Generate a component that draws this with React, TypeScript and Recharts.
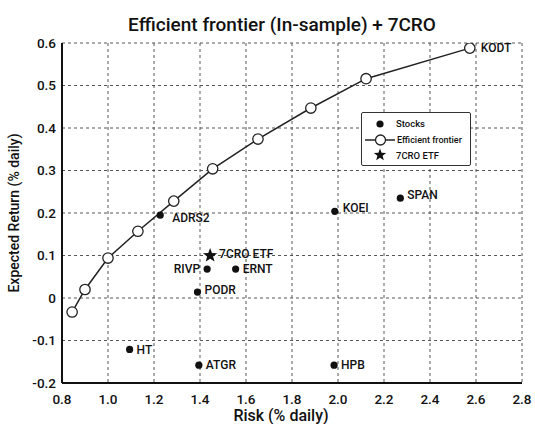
import React from "react";
import { ScatterChart, Scatter, XAxis, YAxis, CartesianGrid } from "recharts";

const frontierRisk = [0.844, 0.9, 1.0, 1.13, 1.286, 1.455, 1.652, 1.882, 2.122, 2.573];
const frontierReturn = [-0.033, 0.02, 0.094, 0.157, 0.228, 0.304, 0.374, 0.447, 0.516, 0.588];
const frontierNames = ["", "", "", "", "", "", "", "", "", "KODT"];

const stockNames = ["ADRS2", "KOEI", "SPAN", "RIVP", "ERNT", "PODR", "HT", "ATGR", "HPB"];
const stockRisk = [1.227, 1.986, 2.271, 1.431, 1.555, 1.389, 1.094, 1.395, 1.983];
const stockReturn = [0.195, 0.204, 0.235, 0.068, 0.068, 0.014, -0.121, -0.158, -0.158];

const etfName = "7CRO ETF";
const etfRisk = [1.444];
const etfReturn = [0.1];

const xTicks = [0.8, 1.0, 1.2, 1.4, 1.6, 1.8, 2.0, 2.2, 2.4, 2.6, 2.8];
const yTicks = [-0.2, -0.1, 0, 0.1, 0.2, 0.3, 0.4, 0.5, 0.6];

const legendLabels = ["Stocks", "Efficient frontier", "7CRO ETF"];

const frontier = frontierRisk.map((r, i) => ({ risk: r, ret: frontierReturn[i], name: frontierNames[i] }));
const stocks = stockNames.map((n, i) => ({ name: n, risk: stockRisk[i], ret: stockReturn[i] }));
const etf = etfRisk.map((r, i) => ({ name: etfName, risk: r, ret: etfReturn[i] }));

const FONT = "Roboto, 'DejaVu Sans', sans-serif";

// label offsets (style only)
const labelOffset: Record<string, [number, number, string]> = {
  ADRS2: [12, 3, "start"],
  KOEI: [8, -4, "start"],
  SPAN: [7, -3, "start"],
  RIVP: [-7, 0, "end"],
  ERNT: [7, 0, "start"],
  PODR: [7, -2, "start"],
  HT: [7, 0, "start"],
  ATGR: [7, 0, "start"],
  HPB: [7, 0, "start"],
  KODT: [11, 0, "start"],
  "7CRO ETF": [9, -2, "start"],
};

const PointLabel = ({ x, y, name }: { x: number; y: number; name: string }) => {
  const o = labelOffset[name];
  if (!o) return null;
  return (
    <text
      x={x + o[0]}
      y={y + o[1]}
      dy="0.35em"
      textAnchor={o[2] as any}
      fontFamily={FONT}
      fontSize={12}
      fontWeight={500}
      fill="#111"
    >
      {name}
    </text>
  );
};

const StockShape = (props: any) => {
  const { cx, cy, payload } = props;
  return (
    <g>
      <circle cx={cx} cy={cy} r={3.6} fill="#111" />
      <PointLabel x={cx} y={cy} name={payload.name} />
    </g>
  );
};

const FrontierShape = (props: any) => {
  const { cx, cy, payload } = props;
  return (
    <g>
      <circle cx={cx} cy={cy} r={5.2} fill="#fff" stroke="#222" strokeWidth={1.3} />
      {payload.name ? <PointLabel x={cx} y={cy} name={payload.name} /> : null}
    </g>
  );
};

const starPath = (cx: number, cy: number, R: number) => {
  const r = R * 0.42;
  const pts: string[] = [];
  for (let i = 0; i < 10; i++) {
    const ang = -Math.PI / 2 + (i * Math.PI) / 5;
    const rad = i % 2 === 0 ? R : r;
    pts.push(`${cx + rad * Math.cos(ang)},${cy + rad * Math.sin(ang)}`);
  }
  return `M${pts.join("L")}Z`;
};

const StarShape = (props: any) => {
  const { cx, cy, payload } = props;
  return (
    <g>
      <path d={starPath(cx, cy, 7.5)} fill="#111" />
      <PointLabel x={cx} y={cy} name={payload.name} />
    </g>
  );
};

const LegendBox = () => (
  <div
    style={{
      position: "absolute",
      left: 361,
      top: 112,
      width: 110,
      height: 54,
      border: "1.5px solid #333",
      borderRadius: 2,
      background: "#fff",
      boxSizing: "border-box",
      zIndex: 3,
    }}
  >
    <svg width={107} height={51} style={{ display: "block" }}>
      <circle cx={18} cy={11} r={3.6} fill="#111" />
      <text x={34} y={11} dy="0.35em" fontFamily={FONT} fontSize={9.5} fontWeight={500} fill="#111">
        {legendLabels[0]}
      </text>
      <line x1={3} x2={33} y1={27} y2={27} stroke="#222" strokeWidth={1.5} />
      <circle cx={18.5} cy={27} r={5} fill="#fff" stroke="#222" strokeWidth={1.3} />
      <text x={35} y={27} dy="0.35em" fontFamily={FONT} fontSize={9} fontWeight={500} fill="#111">
        {legendLabels[1]}
      </text>
      <path d={starPath(18, 42, 6.5)} fill="#111" />
      <text x={34} y={43} dy="0.35em" fontFamily={FONT} fontSize={9.5} fontWeight={500} fill="#111">
        {legendLabels[2]}
      </text>
    </svg>
  </div>
);

export default function App() {
  return (
    <div style={{ position: "absolute", left: 0, top: 0, width: 535, height: 424, background: "#fff" }}>
      <div
        style={{
          position: "absolute",
          left: 0,
          top: 13,
          width: 564,
          textAlign: "center",
          fontFamily: FONT,
          fontSize: 19,
          fontWeight: 500,
          color: "#111",
          zIndex: 2,
        }}
      >
        Efficient frontier (In-sample) + 7CRO
      </div>
      <ScatterChart width={535} height={424} margin={{ top: 43, right: 13, left: 0, bottom: 0 }}>
        <CartesianGrid stroke="#444" strokeDasharray="3 3" strokeWidth={0.9} />
        <XAxis
          type="number"
          dataKey="risk"
          domain={[0.8, 2.8]}
          ticks={xTicks}
          tickFormatter={(v: number) => v.toFixed(1)}
          height={41}
          tickLine={false}
          axisLine={{ stroke: "#111", strokeWidth: 2 }}
          tick={{ fill: "#111", fontFamily: FONT, fontSize: 13.5, fontWeight: 500 }}
          tickMargin={5}
          interval={0}
          allowDataOverflow
          label={{
            value: "Risk (% daily)",
            position: "insideBottom",
            offset: 3,
            dx: -11,
            style: { fill: "#111", fontFamily: FONT, fontSize: 16, fontWeight: 500 },
          }}
        />
        <YAxis
          type="number"
          dataKey="ret"
          domain={[-0.2, 0.6]}
          ticks={yTicks}
          tickFormatter={(v: number) => (v === 0 ? "0" : v.toFixed(1))}
          width={62}
          tickLine={false}
          tickSize={0}
          axisLine={{ stroke: "#111", strokeWidth: 2 }}
          tick={{ fill: "#111", fontFamily: FONT, fontSize: 13.5, fontWeight: 500 }}
          tickMargin={6}
          interval={0}
          allowDataOverflow
          label={{
            value: "Expected Return (% daily)",
            angle: -90,
            position: "insideLeft",
            offset: 14,
            style: { textAnchor: "middle", fill: "#111", fontFamily: FONT, fontSize: 14, fontWeight: 500 },
          }}
        />
        <Scatter
          name="Efficient frontier"
          data={frontier}
          line={{ stroke: "#222", strokeWidth: 1.5 }}
          shape={FrontierShape}
          isAnimationActive={false}
        />
        <Scatter name="Stocks" data={stocks} shape={StockShape} isAnimationActive={false} />
        <Scatter name="7CRO ETF" data={etf} shape={StarShape} isAnimationActive={false} />
      </ScatterChart>
      <LegendBox />
    </div>
  );
}
